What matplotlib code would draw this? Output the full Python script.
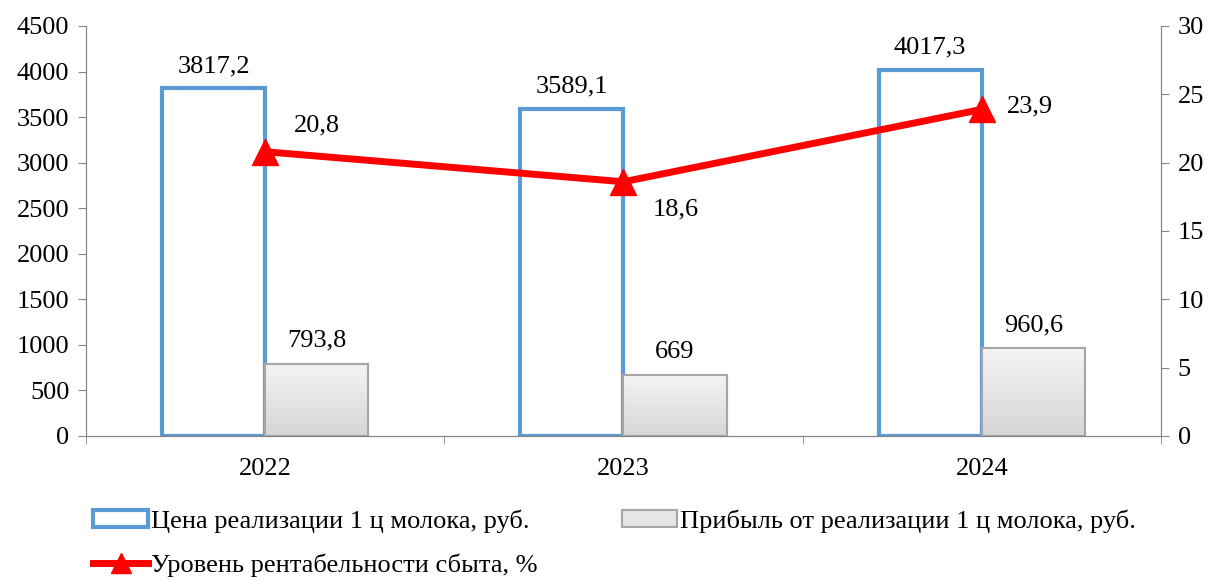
import numpy as np
import matplotlib
matplotlib.use('Agg')
import matplotlib.pyplot as plt
from matplotlib.patches import Patch
from matplotlib.lines import Line2D

plt.rcParams['font.family'] = ['Liberation Serif', 'DejaVu Serif']
plt.rcParams['font.size'] = 19

years = ['2022', '2023', '2024']
price = [3817.2, 3589.1, 4017.3]
profit = [793.8, 669, 960.6]
rentab = [20.8, 18.6, 23.9]

def fmt(v):
    return ('%g' % v).replace('.', ',')

fig = plt.figure(figsize=(12.14, 5.8), dpi=100)
ax = fig.add_axes([0.0708, 0.2483, 0.8855, 0.7069])
ax2 = ax.twinx()

x = np.arange(len(years))
w = 0.288
blue = '#5b9bd5'
b1 = ax.bar(x - w / 2, price, w, facecolor='white', edgecolor=blue, linewidth=3, zorder=2)
b2 = ax.bar(x + w / 2, profit, w, facecolor='#e6e6e6', edgecolor='#a6a6a6', linewidth=1.5, zorder=2)

# gradient fill for the grey bars
cm = matplotlib.colors.LinearSegmentedColormap.from_list('g', ['#d6d6d6', '#f4f4f4'])
grad = np.linspace(0, 1, 100).reshape(-1, 1)
for r in b2:
    x0, y0 = r.get_x(), r.get_y()
    im = ax.imshow(grad, cmap=cm,
                   extent=[x0, x0 + r.get_width(), y0, y0 + r.get_height()],
                   origin='lower', aspect='auto', zorder=2.1)
    im.set_clip_path(r)
    ax.add_patch(plt.Rectangle((x0, y0), r.get_width(), r.get_height(), fill=False,
                               edgecolor='#a6a6a6', linewidth=1.5, zorder=2.2))

for xi, v in zip(x, price):
    ax.annotate(fmt(v), (xi - w / 2, v), xytext=(0, 8), textcoords='offset points',
                ha='center', va='bottom')
for xi, v in zip(x, profit):
    ax.annotate(fmt(v), (xi + w / 2, v), xytext=(0, 9), textcoords='offset points',
                ha='center', va='bottom')

ax2.plot(x, rentab, color='#ff0000', linewidth=5, marker='^', markersize=19, zorder=3)
offs = [(37, 19), (38, -20), (35, 2)]
for xi, v, o in zip(x, rentab, offs):
    ax2.annotate(fmt(v), (xi, v), xytext=o, textcoords='offset points',
                 ha='center', va='center')

ax.set_xlim(-0.5, 2.5)
ax.set_ylim(0, 4500)
ax.set_yticks(np.arange(0, 4501, 500))
ax2.set_ylim(0, 30)
ax2.set_yticks(np.arange(0, 31, 5))
ax.set_xticks(x)
ax.set_xticklabels(years)
ax.set_xticks([-0.5, 0.5, 1.5, 2.5], minor=True)
ax.tick_params(axis='x', which='major', length=0, pad=16)
ax.tick_params(axis='x', which='minor', length=6, color='#868686')
ax.tick_params(axis='y', length=6, color='#868686', pad=6)
ax2.tick_params(axis='y', length=6, color='#868686', pad=6)

for a in (ax, ax2):
    a.spines['top'].set_visible(False)
    for s in ('left', 'right', 'bottom'):
        a.spines[s].set_color('#868686')
ax2.patch.set_visible(False)

h_price = Patch(facecolor='white', edgecolor=blue, linewidth=3)
h_profit = Patch(facecolor='#e6e6e6', edgecolor='#a6a6a6', linewidth=1.5)
h_rent = Line2D([], [], color='#ff0000', linewidth=5, marker='^', markersize=14)
fig.legend([h_price, h_rent, h_profit],
           ['Цена реализации 1 ц молока, руб.', 'Уровень рентабельности сбыта, %',
            'Прибыль от реализации 1 ц молока, руб.'],
           ncol=2, loc='lower left', bbox_to_anchor=(0.057, -0.036), frameon=False,
           handlelength=2.1, handletextpad=0.1, columnspacing=3.2,
           labelspacing=0.8, handleheight=0.6)

fig.savefig('out.png', dpi=100)
